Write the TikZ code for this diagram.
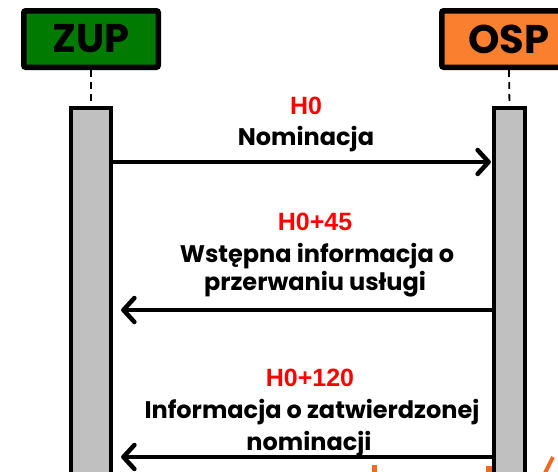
\documentclass[tikz,border=0pt]{standalone}
\usepackage{fontspec}
\usetikzlibrary{arrows.meta}
\newfontfamily\gfont{Poppins}
\newfontfamily\rfont{Liberation Sans}
\definecolor{zupgreen}{RGB}{0,122,0}
\definecolor{osporange}{RGB}{250,128,48}
\definecolor{lgray}{RGB}{192,192,192}
\definecolor{tred}{RGB}{255,0,0}
\definecolor{fragorange}{RGB}{245,105,35}
\tikzset{
  head/.style={draw=black, line width=5.5pt, rounded corners=2pt, minimum width=134.5pt, minimum height=56.5pt, inner sep=0pt, font=\gfont\bfseries\fontsize{40}{40}\selectfont},
  lifebox/.style={draw=black, line width=4.3pt, fill=lgray, anchor=north, inner sep=0pt, minimum height=420pt},
  lifedash/.style={line width=1.8pt, dash pattern=on 7pt off 5pt},
  msg/.style={line width=4.5pt, -{Straight Barb[length=11pt,width=24pt,round]}},
  tlabel/.style={anchor=base, inner sep=0pt, text=tred, font=\rfont\bfseries\fontsize{25}{25}\selectfont},
  mlabel/.style={anchor=base, inner sep=0pt, text=black, font=\gfont\bfseries\fontsize{24}{24}\selectfont}
}
\begin{document}
\begin{tikzpicture}[x=1pt,y=-1pt]
\useasboundingbox (0,0) rectangle (558,472);
\clip (0,0) rectangle (558,472);
% orange fragments at the bottom
\fill[fragorange] (372,465) rectangle (377,472);
\fill[fragorange] (486,466) rectangle (493,472);
\draw[fragorange, line width=4pt] (545,473) -- (553,457);
% headers
\node[head, fill=zupgreen] (zup) at (91,39) {ZUP};
\node[head, fill=osporange] (osp) at (509,39) {OSP};
% lifelines
\node[lifebox, minimum width=40pt] (zupl) at (91,106) {};
\node[lifebox, minimum width=31pt] (ospl) at (509.5,106) {};
\draw[lifedash] (zup.south) -- (zupl.north);
\draw[lifedash] (osp.south) -- (ospl.north);
% messages
\draw[msg, shorten >=1pt] (zupl.east |- 0,162) -- (ospl.west |- 0,162);
\draw[msg, shorten >=8pt] (ospl.west |- 0,310) -- (zupl.east |- 0,310);
\draw[msg, shorten >=8pt] (ospl.west |- 0,457) -- (zupl.east |- 0,457);
% labels
\node[tlabel] (t1a) at (306,114) {H0};
\node[mlabel] (t1b) at (306,145) {Nominacja};
\node[tlabel] (t2a) at (315,230) {H0+45};
\node[mlabel] (t2b) at (317,262) {Wstępna informacja o};
\node[mlabel] (t2c) at (315,290) {przerwaniu usługi};
\node[tlabel] (t3a) at (310,386) {H0+120};
\node[mlabel] (t3b) at (312,418) {Informacja o zatwierdzonej};
\node[mlabel] (t3c) at (309,450) {nominacji};
\end{tikzpicture}
\end{document}
